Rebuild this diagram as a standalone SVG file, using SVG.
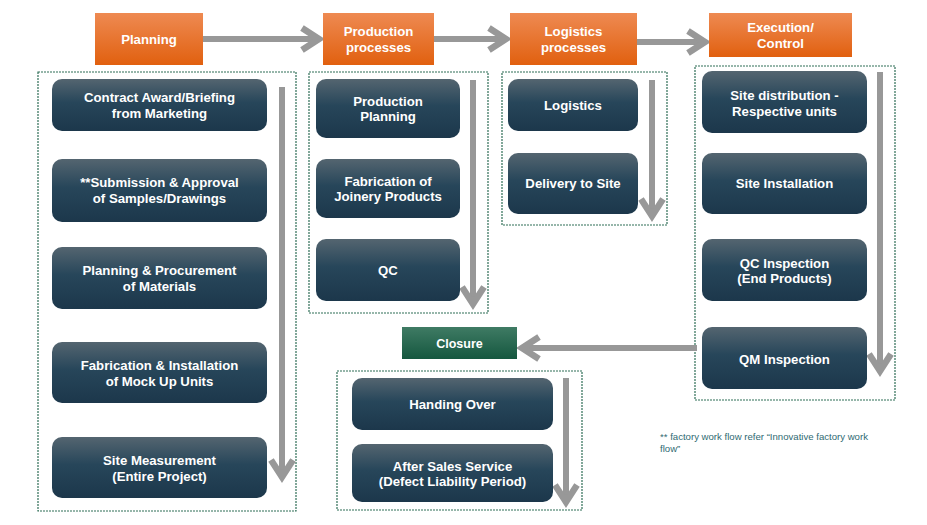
<svg xmlns="http://www.w3.org/2000/svg" width="927" height="525" viewBox="0 0 927 525">
<defs>
<linearGradient id="gNode" x1="0" y1="0" x2="0" y2="1">
<stop offset="0" stop-color="#546570"/>
<stop offset="0.45" stop-color="#27465a"/>
<stop offset="1" stop-color="#1c374b"/>
</linearGradient>
<linearGradient id="gHead" x1="0" y1="0" x2="0" y2="1">
<stop offset="0" stop-color="#ee8a52"/>
<stop offset="1" stop-color="#e1600f"/>
</linearGradient>
<linearGradient id="gGreen" x1="0" y1="0" x2="0" y2="1">
<stop offset="0" stop-color="#3f7b64"/>
<stop offset="1" stop-color="#15573f"/>
</linearGradient>
<style>
.node{fill:url(#gNode)}
.head{fill:url(#gHead)}
.box{fill:none;stroke:#2f6e57;stroke-width:1.2;stroke-dasharray:2 1}
.t{font-family:"Liberation Sans",Arial,sans-serif;font-weight:bold;font-size:13.2px;fill:#ffffff;text-anchor:middle}
.ar{fill:none;stroke:#989898;stroke-width:6}
.ah{fill:none;stroke:#989898;stroke-width:6.5;stroke-linejoin:miter}
.note{font-family:"Liberation Sans",Arial,sans-serif;font-size:9.6px;fill:#2f6a72}
</style>
</defs>
<g id="containers">
<rect class="box" x="38" y="72" width="258" height="439"/>
<rect class="box" x="309" y="72" width="179" height="241"/>
<rect class="box" x="502" y="72" width="165" height="153"/>
<rect class="box" x="695" y="66" width="200" height="334"/>
<rect class="box" x="337" y="371" width="245" height="139"/>
</g>
<g id="connectors">
<line class="ar" x1="203" y1="39" x2="318" y2="39"/>
<polyline class="ah" points="302,28 319,39 302,50"/>
<line class="ar" x1="434" y1="39" x2="505" y2="39"/>
<polyline class="ah" points="489,28 506,39 489,50"/>
<line class="ar" x1="637" y1="42" x2="704" y2="42"/>
<polyline class="ah" points="688,31 705,42 688,53"/>
<line class="ar" x1="282" y1="87" x2="282" y2="476"/>
<polyline class="ah" points="271,460 282,477 293,460"/>
<line class="ar" x1="473" y1="80" x2="473" y2="303"/>
<polyline class="ah" points="462,287 473,304 484,287"/>
<line class="ar" x1="652" y1="80" x2="652" y2="215"/>
<polyline class="ah" points="641,199 652,216 663,199"/>
<line class="ar" x1="880" y1="72" x2="880" y2="370"/>
<polyline class="ah" points="869,354 880,371 891,354"/>
<line class="ar" x1="697" y1="348" x2="523" y2="348"/>
<polyline class="ah" points="539,337 522,348 539,359"/>
<line class="ar" x1="566" y1="378" x2="566" y2="501"/>
<polyline class="ah" points="555,485 566,502 577,485"/>
</g>
<g id="h-planning"><rect class="head" x="95" y="13" width="108" height="52"/><text class="t" x="149" y="44">Planning</text></g>
<g id="h-production"><rect class="head" x="323" y="13" width="111" height="52"/><text class="t" x="378.5" y="36">Production</text><text class="t" x="378.5" y="52">processes</text></g>
<g id="h-logistics"><rect class="head" x="510" y="13" width="127" height="52"/><text class="t" x="573.5" y="36">Logistics</text><text class="t" x="573.5" y="52">processes</text></g>
<g id="h-execution"><rect class="head" x="709" y="13" width="143" height="44"/><text class="t" x="780.5" y="32">Execution/</text><text class="t" x="780.5" y="48">Control</text></g>
<g id="n-contract"><rect class="node" x="52" y="79" width="215" height="52" rx="10"/><text class="t" x="159.5" y="102">Contract Award/Briefing</text><text class="t" x="159.5" y="118">from Marketing</text></g>
<g id="n-submission"><rect class="node" x="52" y="159" width="215" height="63" rx="10"/><text class="t" x="159.5" y="187">**Submission &amp; Approval</text><text class="t" x="159.5" y="203">of Samples/Drawings</text></g>
<g id="n-procurement"><rect class="node" x="52" y="247" width="215" height="62" rx="10"/><text class="t" x="159.5" y="275">Planning &amp; Procurement</text><text class="t" x="159.5" y="291">of Materials</text></g>
<g id="n-mockup"><rect class="node" x="52" y="342" width="215" height="61" rx="10"/><text class="t" x="159.5" y="370">Fabrication &amp; Installation</text><text class="t" x="159.5" y="386">of Mock Up Units</text></g>
<g id="n-measurement"><rect class="node" x="52" y="437" width="215" height="61" rx="10"/><text class="t" x="159.5" y="465">Site Measurement</text><text class="t" x="159.5" y="481">(Entire Project)</text></g>
<g id="n-prodplan"><rect class="node" x="316" y="79" width="144" height="59" rx="10"/><text class="t" x="388" y="106">Production</text><text class="t" x="388" y="121">Planning</text></g>
<g id="n-fabjoinery"><rect class="node" x="316" y="159" width="144" height="59" rx="10"/><text class="t" x="388" y="186">Fabrication of</text><text class="t" x="388" y="201">Joinery Products</text></g>
<g id="n-qc"><rect class="node" x="316" y="239" width="144" height="62" rx="10"/><text class="t" x="388" y="275">QC</text></g>
<g id="n-logistics"><rect class="node" x="508" y="79" width="130" height="52" rx="10"/><text class="t" x="573" y="110">Logistics</text></g>
<g id="n-delivery"><rect class="node" x="508" y="153" width="130" height="61" rx="10"/><text class="t" x="573" y="188">Delivery to Site</text></g>
<g id="n-sitedist"><rect class="node" x="702" y="71" width="165" height="62" rx="10"/><text class="t" x="784.5" y="100">Site distribution -</text><text class="t" x="784.5" y="116">Respective units</text></g>
<g id="n-siteinst"><rect class="node" x="702" y="153" width="165" height="61" rx="10"/><text class="t" x="784.5" y="188">Site Installation</text></g>
<g id="n-qcinsp"><rect class="node" x="702" y="239" width="165" height="62" rx="10"/><text class="t" x="784.5" y="268">QC Inspection</text><text class="t" x="784.5" y="283">(End Products)</text></g>
<g id="n-qminsp"><rect class="node" x="702" y="327" width="165" height="62" rx="10"/><text class="t" x="784.5" y="364">QM Inspection</text></g>
<g id="n-closure"><rect fill="url(#gGreen)" x="402" y="327" width="115" height="32"/><text class="t" x="459.5" y="348" style="font-size:12.5px">Closure</text></g>
<g id="n-handover"><rect class="node" x="352" y="378" width="201" height="52" rx="10"/><text class="t" x="452.5" y="409">Handing Over</text></g>
<g id="n-aftersales"><rect class="node" x="352" y="444" width="201" height="58" rx="10"/><text class="t" x="452.5" y="471">After Sales Service</text><text class="t" x="452.5" y="486">(Defect Liability Period)</text></g>
<g id="footnote"><text class="note" x="660" y="440">** factory work flow refer “Innovative factory work</text><text class="note" x="660" y="452">flow”</text></g>
</svg>
